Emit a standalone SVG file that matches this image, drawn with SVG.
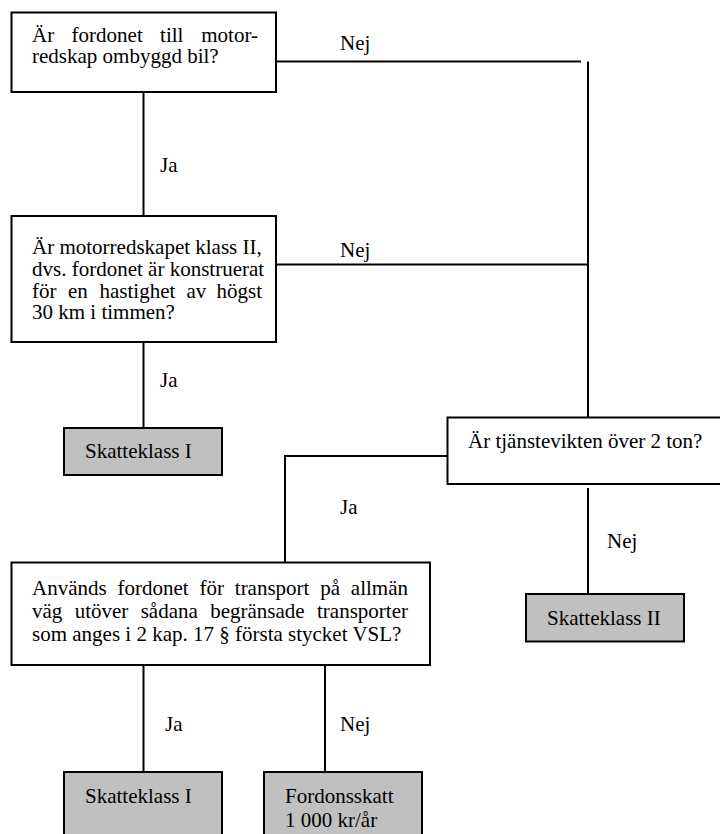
<svg xmlns="http://www.w3.org/2000/svg" width="720" height="834" viewBox="0 0 720 834">
<style>
text{font-family:"Liberation Serif","Times New Roman",serif;font-size:21px;fill:#000}
.box{fill:#fff;stroke:#000;stroke-width:2}
.res{fill:#c0c0c0;stroke:#000;stroke-width:2}
.ln{fill:none;stroke:#000;stroke-width:2}
</style>
<rect width="720" height="834" fill="#fff"/>
<g id="connectors">
<path class="ln" d="M276 61.5H581"/>
<path class="ln" d="M588 61.5V417"/>
<path class="ln" d="M276 264.5H588"/>
<path class="ln" d="M143.5 92V216"/>
<path class="ln" d="M143.5 342V428"/>
<path class="ln" d="M447 456H285V562"/>
<path class="ln" d="M588 488V594"/>
<path class="ln" d="M143.5 665V772"/>
<path class="ln" d="M325 665V772"/>
<text x="340" y="50">Nej</text>
<text x="160" y="172">Ja</text>
<text x="340" y="257">Nej</text>
<text x="160" y="387">Ja</text>
<text x="340" y="514">Ja</text>
<text x="607" y="548">Nej</text>
<text x="165" y="731">Ja</text>
<text x="340" y="731">Nej</text>
</g>
<g id="q1">
<rect class="box" x="11.5" y="12.5" width="264.5" height="79.5"/>
<text y="42"><tspan x="32">Är</tspan><tspan x="71.6">fordonet</tspan><tspan x="160.1">till</tspan><tspan x="258" text-anchor="end">motor-</tspan></text>
<text x="32" y="63">redskap ombyggd bil?</text>
</g>
<g id="q2">
<rect class="box" x="11.5" y="216" width="264.5" height="126"/>
<text x="32" y="254">Är motorredskapet klass II,</text>
<text x="32" y="276">dvs. fordonet är konstruerat</text>
<text y="297.5"><tspan x="32">för</tspan><tspan x="68">en</tspan><tspan x="99.5">hastighet</tspan><tspan x="186.5">av</tspan><tspan x="262" text-anchor="end">högst</tspan></text>
<text x="32" y="319">30 km i timmen?</text>
</g>
<g id="r1">
<rect class="res" x="64" y="428" width="158" height="47"/>
<text x="85" y="458">Skatteklass I</text>
</g>
<g id="q3">
<rect class="box" x="447.5" y="417.5" width="280" height="66.5"/>
<text x="468" y="448">Är tjänstevikten över 2 ton?</text>
</g>
<g id="r2">
<rect class="res" x="526" y="594" width="158" height="47.5"/>
<text x="547" y="625">Skatteklass II</text>
</g>
<g id="q4">
<rect class="box" x="11.5" y="562.5" width="418.5" height="102.5"/>
<text y="595"><tspan x="32">Används</tspan><tspan x="117.5">fordonet</tspan><tspan x="199.5">för</tspan><tspan x="234.8">transport</tspan><tspan x="320.3">på</tspan><tspan x="408" text-anchor="end">allmän</tspan></text>
<text y="618"><tspan x="32">väg</tspan><tspan x="74.7">utöver</tspan><tspan x="140.7">sådana</tspan><tspan x="210.2">begränsade</tspan><tspan x="408" text-anchor="end">transporter</tspan></text>
<text x="32" y="641">som anges i 2 kap. 17 § första stycket VSL?</text>
</g>
<g id="r3">
<rect class="res" x="64" y="772" width="158" height="70"/>
<text x="85" y="803">Skatteklass I</text>
</g>
<g id="r4">
<rect class="res" x="264" y="772" width="158" height="70"/>
<text x="285" y="803">Fordonsskatt</text>
<text x="285" y="827">1 000 kr/år</text>
</g>
</svg>
